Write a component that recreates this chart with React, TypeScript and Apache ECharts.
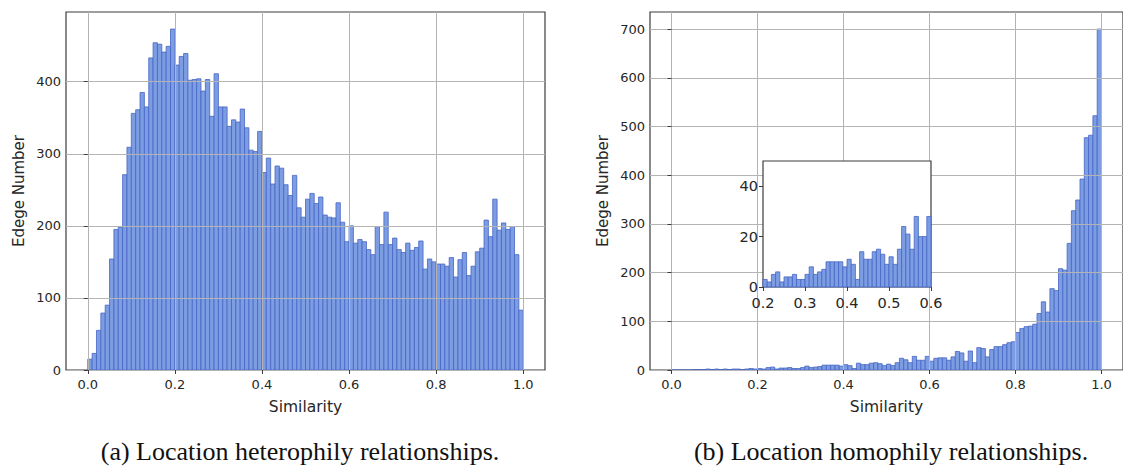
import React, { useEffect, useRef } from "react";
import * as echarts from "echarts";

const binWidth = 0.01;

// Left panel: location heterophily relationships (100 bins on [0,1])
const heteroCounts = [
  15, 23, 55, 79, 90, 154, 195, 198, 271, 309,
  356, 361, 385, 365, 433, 454, 452, 441, 449, 473,
  423, 435, 439, 402, 403, 404, 387, 403, 352, 411,
  365, 365, 338, 347, 344, 362, 336, 305, 303, 331,
  274, 294, 258, 283, 280, 257, 242, 270, 225, 212,
  237, 245, 231, 240, 215, 212, 211, 232, 205, 178,
  200, 176, 181, 178, 167, 160, 199, 174, 219, 174,
  183, 167, 163, 176, 166, 170, 179, 140, 154, 150,
  147, 147, 144, 156, 129, 153, 163, 131, 144, 164,
  169, 208, 185, 237, 194, 204, 195, 199, 160, 83,
];

// Right panel: location homophily relationships (100 bins on [0,1])
const homoCounts = [
  0, 0, 0, 0, 0, 1, 1, 1, 2, 1,
  2, 1, 2, 1, 2, 2, 1, 2, 3, 2,
  3, 2, 5, 6, 2, 4, 4, 5, 3, 3,
  5, 8, 5, 6, 7, 10, 10, 10, 10, 8,
  11, 9, 3, 14, 11, 11, 14, 15, 13, 9,
  12, 9, 15, 24, 21, 15, 28, 20, 20, 28,
  18, 24, 25, 25, 20, 27, 38, 35, 18, 39,
  15, 46, 44, 27, 42, 48, 48, 52, 56, 58,
  77, 85, 89, 90, 94, 116, 140, 119, 167, 163,
  208, 205, 260, 327, 349, 392, 477, 482, 522, 700,
];

const insetStart = 0.2;
const insetCounts = homoCounts.slice(20, 60);

const mainXTicks = [0, 0.2, 0.4, 0.6, 0.8, 1.0];
const heteroYTicks = [0, 100, 200, 300, 400];
const homoYTicks = [0, 100, 200, 300, 400, 500, 600, 700];
const insetXTicks = [0.2, 0.3, 0.4, 0.5, 0.6];
const insetYTicks = [0, 20, 40];

const xTitle = "Similarity";
const yTitle = "Edege Number";
const captionA = "(a) Location heterophily relationships.";
const captionB = "(b) Location homophily relationships.";

const FONT = "DejaVu Sans";
const TXT = "#262626";
const GRIDC = "#b4b4b4";
const FRAME = "#3c3c3c";
const BAR_FILL = "#7d9de2";
const BAR_EDGE = "#4565c5";

function toBins(counts: number[], start: number) {
  return counts.map((c, i) => [
    Math.round((start + i * binWidth) * 1000) / 1000,
    Math.round((start + (i + 1) * binWidth) * 1000) / 1000,
    c,
  ]);
}

function histSeries(data: number[][], idx: number, z: number) {
  return {
    type: "custom",
    xAxisIndex: idx,
    yAxisIndex: idx,
    z,
    silent: true,
    data,
    encode: { x: [0, 1], y: 2 },
    renderItem: (params: any, api: any) => {
      const x0 = api.value(0);
      const x1 = api.value(1);
      const v = api.value(2);
      const p0 = api.coord([x0, v]);
      const p1 = api.coord([x1, 0]);
      return {
        type: "rect",
        shape: { x: p0[0], y: p0[1], width: p1[0] - p0[0], height: p1[1] - p0[1] },
        style: { fill: BAR_FILL, stroke: BAR_EDGE, lineWidth: 0.8 },
      };
    },
  };
}

function mainX(idx: number) {
  return {
    gridIndex: idx,
    type: "value",
    min: -0.05,
    max: 1.05,
    z: 5,
    axisLine: { show: false },
    axisTick: { show: true, length: 4, customValues: mainXTicks, lineStyle: { color: FRAME } },
    axisLabel: {
      customValues: mainXTicks,
      formatter: (v: number) => v.toFixed(1),
      fontFamily: FONT,
      fontSize: 13,
      color: TXT,
      margin: 8,
    },
    splitLine: { show: true, lineStyle: { color: GRIDC, width: 1 } },
    name: xTitle,
    nameLocation: "middle",
    nameGap: 29,
    nameTextStyle: { fontFamily: FONT, fontSize: 15.5, color: TXT },
  };
}

function mainY(idx: number, ticks: number[], max: number) {
  return {
    gridIndex: idx,
    type: "value",
    min: 0,
    max,
    z: 5,
    axisLine: { show: false },
    axisTick: { show: true, length: 4, customValues: ticks, lineStyle: { color: FRAME } },
    axisLabel: {
      customValues: ticks,
      fontFamily: FONT,
      fontSize: 13,
      color: TXT,
      margin: 5,
    },
    splitLine: { show: true, lineStyle: { color: GRIDC, width: 1 } },
    name: yTitle,
    nameLocation: "middle",
    nameGap: 40,
    nameTextStyle: { fontFamily: FONT, fontSize: 15, color: TXT },
  };
}

export default function App() {
  const ref = useRef<HTMLDivElement>(null);

  useEffect(() => {
    if (!ref.current) return;
    const chart = echarts.init(ref.current, null, { renderer: "svg" });
    const heteroMax = Math.max(...heteroCounts) * 1.05;
    const homoMax = Math.max(...homoCounts) * 1.05;

    chart.setOption({
      animation: false,
      backgroundColor: "#ffffff",
      grid: [
        { left: 66, top: 12, width: 479, height: 358, show: true, borderColor: FRAME, borderWidth: 1.2, backgroundColor: "transparent" },
        { left: 650, top: 12, width: 480, height: 358, show: true, borderColor: FRAME, borderWidth: 1.2, backgroundColor: "transparent" },
        { left: 763, top: 161, width: 168, height: 126, show: true, borderColor: FRAME, borderWidth: 1.2, backgroundColor: "#ffffff", z: 10 },
      ],
      xAxis: [
        mainX(0),
        mainX(1),
        {
          gridIndex: 2,
          type: "value",
          min: 0.2,
          max: 0.6,
          z: 12,
          axisLine: { show: false },
          axisTick: { show: true, length: 4, customValues: insetXTicks, lineStyle: { color: FRAME } },
          axisLabel: {
            customValues: insetXTicks,
            formatter: (v: number) => v.toFixed(1),
            fontFamily: FONT,
            fontSize: 14.5,
            color: TXT,
            margin: 8,
          },
          splitLine: { show: false },
        },
      ],
      yAxis: [
        mainY(0, heteroYTicks, heteroMax),
        mainY(1, homoYTicks, homoMax),
        {
          gridIndex: 2,
          type: "value",
          min: 0,
          max: 50,
          z: 12,
          axisLine: { show: false },
          axisTick: { show: true, length: 4, customValues: insetYTicks, lineStyle: { color: FRAME } },
          axisLabel: {
            customValues: insetYTicks,
            fontFamily: FONT,
            fontSize: 14.5,
            color: TXT,
            margin: 5,
          },
          splitLine: { show: false },
        },
      ],
      series: [
        histSeries(toBins(heteroCounts, 0), 0, 2),
        histSeries(toBins(homoCounts, 0), 1, 2),
        histSeries(toBins(insetCounts, insetStart), 2, 11),
      ],
      graphic: [
        {
          type: "text",
          x: 300,
          y: 451,
          style: {
            text: captionA,
            font: '26px "Liberation Serif"',
            fill: "#111",
            textAlign: "center",
            textVerticalAlign: "middle",
          },
        },
        {
          type: "text",
          x: 891,
          y: 451,
          style: {
            text: captionB,
            font: '26px "Liberation Serif"',
            fill: "#111",
            textAlign: "center",
            textVerticalAlign: "middle",
          },
        },
      ],
    });

    return () => chart.dispose();
  }, []);

  return (
    <div style={{ position: "absolute", left: 0, top: 0, width: 1123, height: 466, overflow: "hidden" }}>
      <div ref={ref} style={{ width: 1123, height: 466 }} />
    </div>
  );
}
